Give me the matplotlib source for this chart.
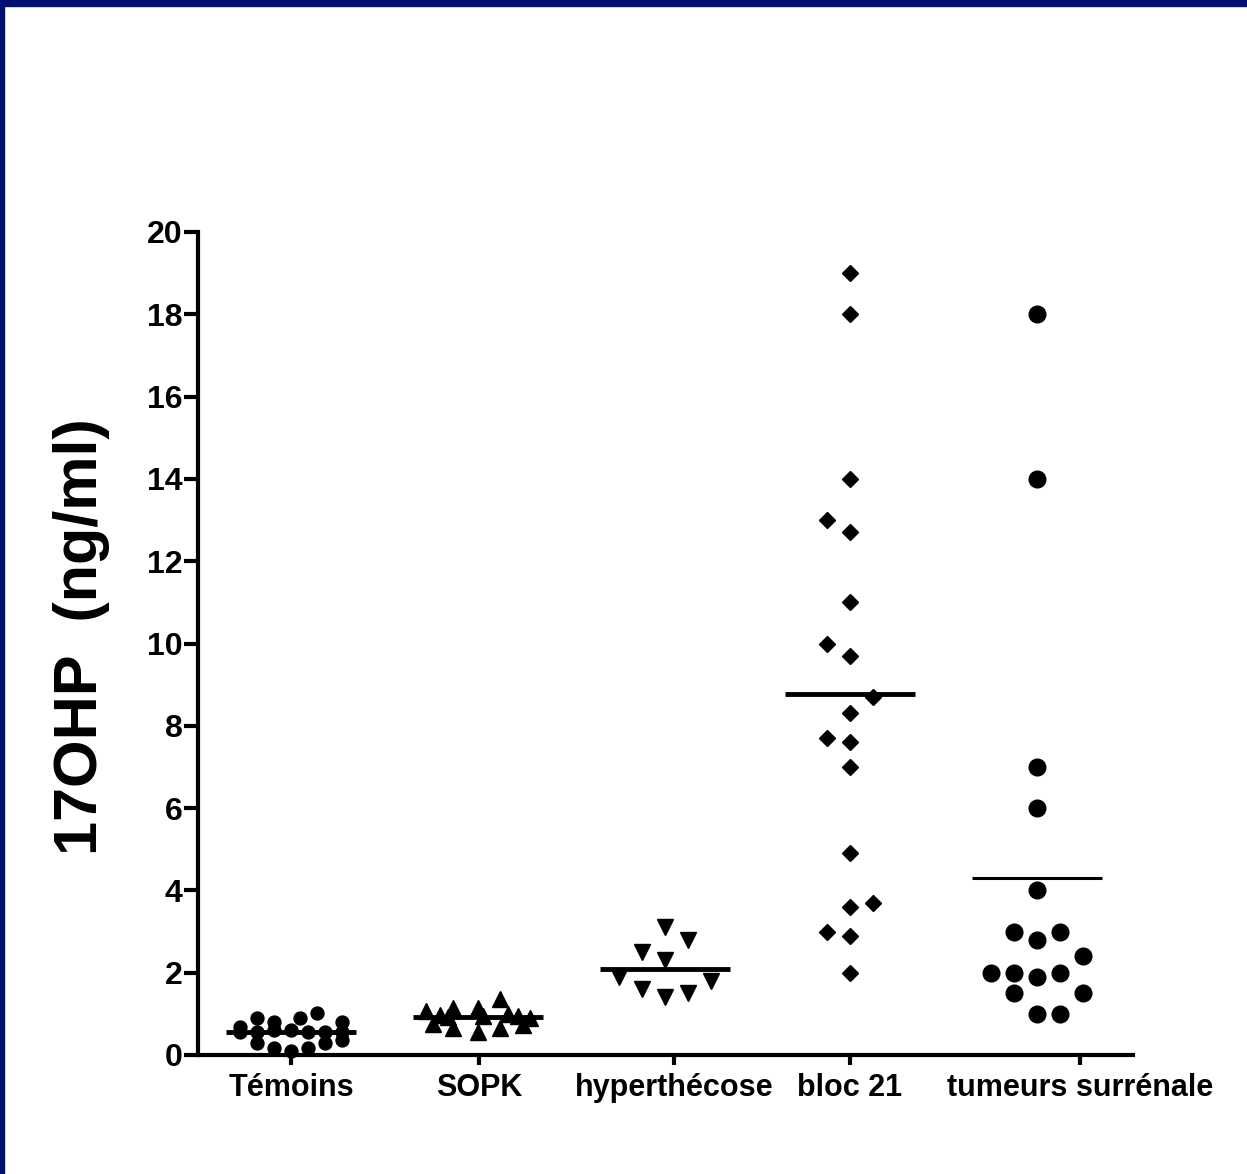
import numpy as np
import matplotlib
matplotlib.use("Agg")
import matplotlib.pyplot as plt
from matplotlib.patches import Rectangle

plt.rcParams['font.family'] = ['Liberation Sans', 'DejaVu Sans']
plt.rcParams['font.weight'] = 'bold'

# groups and values (ng/ml)
groups = ["Témoins", "SOPK", "hyperthécose", "bloc 21", "tumeurs surrénale"]

temoins = [0.69, 0.55, 0.89, 0.55, 0.30, 0.79, 0.60, 0.16, 0.60, 0.10,
           0.89, 1.01, 0.55, 0.16, 0.55, 0.30, 0.79, 0.55, 0.36]
sopk = [1.08, 0.97, 0.75, 1.14, 0.92, 0.66, 1.14, 0.95, 0.57, 1.35,
        1.00, 0.66, 0.95, 0.73, 0.90]
hyperthecose = [3.1, 2.8, 2.5, 2.3, 1.9, 1.8, 1.6, 1.5, 1.4]
bloc21 = [19, 18, 14, 13, 12.7, 11, 10, 9.7, 8.7, 8.3, 7.7, 7.6, 7.0,
          4.9, 3.6, 3.7, 3.0, 2.9, 2.0]
tumeurs = [18, 14, 7, 6, 4, 3, 3, 2.8, 2.4, 2, 2, 2, 1.9, 1.5, 1.5, 1, 1]

yticks = [0, 2, 4, 6, 8, 10, 12, 14, 16, 18, 20]

# layout: horizontal spread of the points (pixel-ish units)
off_temoins = [-3, -3, -2, -2, -2, -1, -1, -1, 0, 0, 0.5, 1.5, 1, 1, 2, 2, 3, 3, 3]
off_sopk = [-52, -38, -45, -25, -30, -25, 0, 5, 0, 22, 30, 22, 40, 45, 52]
off_hyper = [0, 1, -1, 0, -2, 2, -1, 1, 0]
off_bloc = [0, 0, 0, -1, 0, 0, -1, 0, 1, 0, -1, 0, 0, 0, 0, 1, -1, 0, 0]
off_tum = [0, 0, 0, 0, 0, -1, 1, 0, 2, -2, -1, 1, 0, -1, 2, 0, 1]

tick_pos = [93, 281, 476, 652, 882]
centers = [93, 280, 467, 652, 839]

W, H = 1247, 1174
fig = plt.figure(figsize=(W / 100, H / 100), dpi=100)
ax = fig.add_axes([198 / W, 1 - 1055 / H, 935 / W, 823 / H])

series = [
    (temoins, np.array(off_temoins) * 17, 'o', 9.3, 3.5),
    (sopk, np.array(off_sopk), '^', 11, 3.5),
    (hyperthecose, np.array(off_hyper) * 23, 'v', 11.5, 3.5),
    (bloc21, np.array(off_bloc) * 23, 'D', 8, 3.5),
    (tumeurs, np.array(off_tum) * 23, 'o', 12, 2.2),
]

for (vals, offs, mk, ms, lw), c in zip(series, centers):
    ax.plot(c + offs, vals, linestyle='none', marker=mk, markersize=ms,
            color='black', clip_on=False, zorder=3)
    m = np.mean(vals)
    ax.plot([c - 65, c + 65], [m, m], color='black', lw=lw, zorder=4,
            solid_capstyle='butt')

ax.set_xlim(0, 935)
ax.set_ylim(0, 20)
ax.set_yticks(yticks)
ax.set_xticks(tick_pos)
ax.set_xticklabels(groups)

for s in ['top', 'right']:
    ax.spines[s].set_visible(False)
for s in ['left', 'bottom']:
    ax.spines[s].set_linewidth(3)
ax.tick_params(axis='y', length=10, width=3, labelsize=23, pad=1)
ax.tick_params(axis='x', length=7, width=3, labelsize=22, pad=6)
for lab in ax.get_xticklabels() + ax.get_yticklabels():
    lab.set_fontweight('bold')

fig.text(82 / W, 1 - 637 / H, "17OHP  (ng/ml)", rotation=90, fontsize=44,
         fontweight='bold', ha='center', va='center')

# navy frame on top and left edges
navy = '#00106F'
fig.patches.append(Rectangle((0, 1 - 6 / H), 1, 6 / H, transform=fig.transFigure,
                             color=navy, zorder=10))
fig.patches.append(Rectangle((0, 0), 4 / W, 1, transform=fig.transFigure,
                             color=navy, zorder=10))

fig.savefig("out.png", dpi=100)
